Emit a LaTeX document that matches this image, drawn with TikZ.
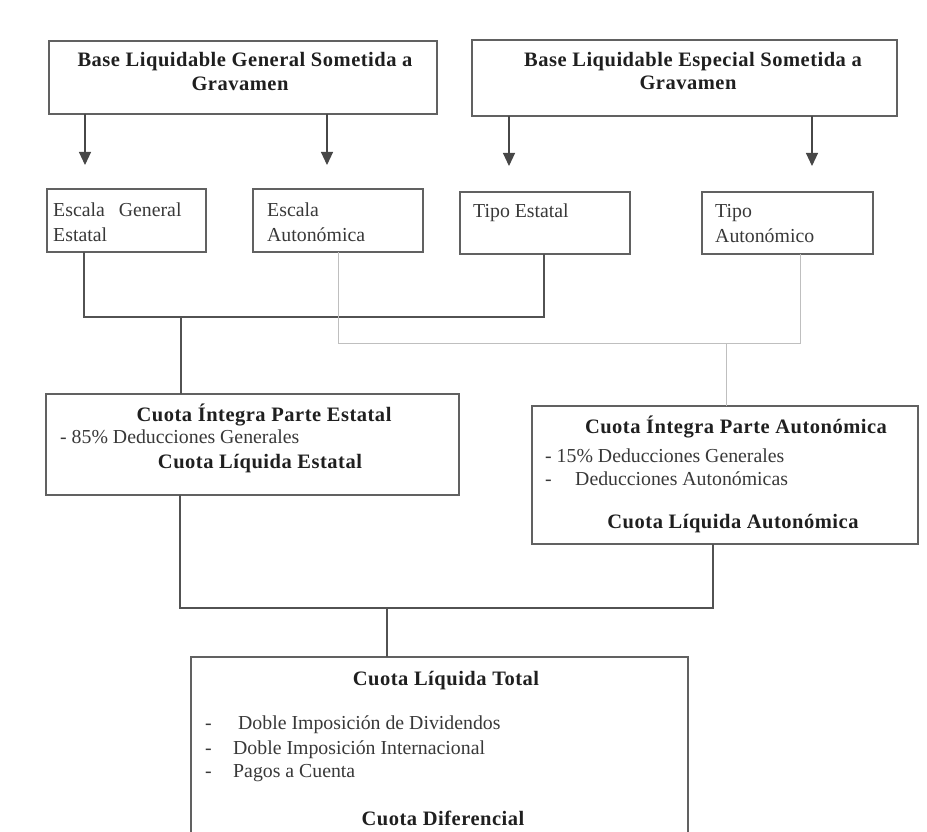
\documentclass[tikz,border=0pt]{standalone}
\usepackage{fontspec}
\setmainfont{Liberation Serif}
\newfontfamily\headfont[LetterSpace=2.5]{Liberation Serif}
\usetikzlibrary{arrows.meta}

\begin{document}
\begin{tikzpicture}[x=1pt,y=-1pt,
  box/.style={draw=black!62, line width=1.1pt, inner sep=0pt, outer sep=0pt, anchor=north west},
  hd/.style={font=\headfont\bfseries\fontsize{20.5}{24}\selectfont, text=black!88, inner sep=0pt, anchor=base},
  tx/.style={font=\fontsize{19.8}{23}\selectfont, text=black!78, inner sep=0pt, anchor=base west},
  conn/.style={draw=black!68, line width=1.1pt},
  faint/.style={draw=black!25, line width=0.9pt},
  arr/.style={draw=black!72, line width=1.1pt, -{Triangle[length=13pt,width=12pt]}}]

\useasboundingbox (0,0) rectangle (927,832);
\clip (0,0) rectangle (927,832);

% --- bases
\node[box, minimum width=388pt, minimum height=73pt] (b1) at (49,41) {};
\node[hd] (b1t1) at (245,67) {Base Liquidable General Sometida a};
\node[hd] (b1t2) at (240,91) {Gravamen};

\node[box, minimum width=425pt, minimum height=76pt] (b2) at (472,40) {};
\node[hd] (b2t1) at (693,67) {Base Liquidable Especial Sometida a};
\node[hd] (b2t2) at (688,90) {Gravamen};

% --- arrow ends
\coordinate (a1) at (85,165);
\coordinate (a2) at (327,165);
\coordinate (a3) at (509,166);
\coordinate (a4) at (812,166);
\draw[arr] (a1 |- b1.south) -- (a1);
\draw[arr] (a2 |- b1.south) -- (a2);
\draw[arr] (a3 |- b2.south) -- (a3);
\draw[arr] (a4 |- b2.south) -- (a4);

% --- scales and rates
\node[box, minimum width=159pt, minimum height=63pt] (eg) at (47,189) {};
\node[tx] (eg1) at (53,217) {Escala\hspace{14pt}General};
\node[tx] (eg2) at (53,241) {Estatal};

\node[box, minimum width=170pt, minimum height=63pt] (ea) at (253,189) {};
\node[tx] (ea1) at (267,217) {Escala};
\node[tx] (ea2) at (267,241) {Autonómica};

\node[box, minimum width=170pt, minimum height=62pt] (te) at (460,192) {};
\node[tx] (te1) at (473,218) {Tipo Estatal};

\node[box, minimum width=171pt, minimum height=62pt] (ta) at (702,192) {};
\node[tx] (ta1) at (715,218) {Tipo};
\node[tx] (ta2) at (715,242) {Autonómico};

% --- state share
\node[box, minimum width=413pt, minimum height=101pt] (ce) at (46,394) {};
\node[hd] (ce1) at (264,421) {Cuota Íntegra Parte Estatal};
\node[tx] (ce2) at (60,443) {- 85\% Deducciones Generales};
\node[hd] (ce3) at (260,468) {Cuota Líquida Estatal};

% --- regional share
\node[box, minimum width=386pt, minimum height=138pt] (ca) at (532,406) {};
\node[hd] (ca1) at (736,433) {Cuota Íntegra Parte Autonómica};
\node[tx] (ca2) at (545,462) {- 15\% Deducciones Generales};
\node[tx] (ca3) at (545,485) {-};
\node[tx] (ca4) at (575,485) {Deducciones Autonómicas};
\node[hd] (ca5) at (733,528) {Cuota Líquida Autonómica};

% --- total
\node[box, minimum width=497pt, minimum height=210pt] (ct) at (191,657) {};
\node[hd] (ct1) at (446,685) {Cuota Líquida Total};
\node[tx] (ct2) at (205,729) {-};
\node[tx] (ct3) at (238,729) {Doble Imposición de Dividendos};
\node[tx] (ct4) at (205,754) {-};
\node[tx] (ct5) at (233,754) {Doble Imposición Internacional};
\node[tx] (ct6) at (205,777) {-};
\node[tx] (ct7) at (233,777) {Pagos a Cuenta};
\node[hd] (ct8) at (443,825) {Cuota Diferencial};

% --- junctions
\coordinate (jl) at (84,317);
\coordinate (jr) at (544,317);
\coordinate (jm) at (181,317);
\coordinate (fl) at (338,343);
\coordinate (fr) at (800,343);
\coordinate (fm) at (726,343);
\coordinate (ll) at (180,608);
\coordinate (lr) at (713,608);
\coordinate (lm) at (387,608);

\draw[conn] (eg.south -| jl) -- (jl) -- (jr) -- (te.south -| jr);
\draw[conn] (jm) -- (ce.north -| jm);
\draw[faint] (ea.south -| fl) -- (fl) -- (fr) -- (ta.south -| fr);
\draw[faint] (fm) -- (ca.north -| fm);
\draw[conn] (ce.south -| ll) -- (ll) -- (lr) -- (ca.south -| lr);
\draw[conn] (lm) -- (ct.north -| lm);
\end{tikzpicture}
\end{document}
